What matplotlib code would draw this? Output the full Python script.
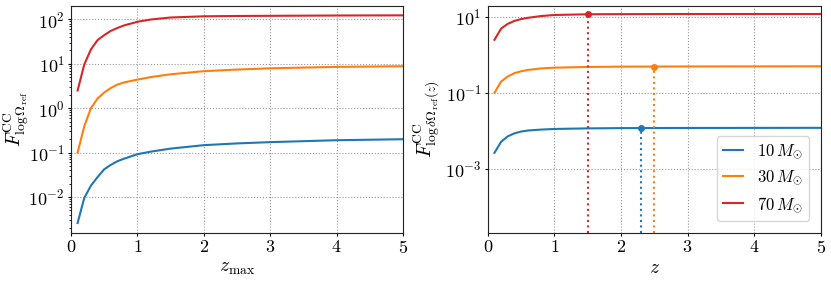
import numpy as np
import matplotlib
matplotlib.use("Agg")
import matplotlib.pyplot as plt
from matplotlib.ticker import LogLocator, NullFormatter, FixedLocator

plt.rcParams['font.family'] = 'serif'
plt.rcParams['font.serif'] = ['cmr10', 'DejaVu Serif']
plt.rcParams['mathtext.fontset'] = 'cm'
plt.rcParams['axes.formatter.use_mathtext'] = True
plt.rcParams['axes.unicode_minus'] = False

# ---- data ----
labels = [r'$10\,M_{\odot}$', r'$30\,M_{\odot}$', r'$70\,M_{\odot}$']
colors = ['#1f77b4', '#ff7f0e', '#d62728']

# left panel: cumulative F vs z_max
zmax = [0.1, 0.2, 0.3, 0.4, 0.5, 0.6, 0.7, 0.8, 1.0, 1.2, 1.5, 2.0, 2.5, 3.0, 4.0, 5.0]
F_cum_10 = [0.0026, 0.0095, 0.018, 0.028, 0.042, 0.053, 0.064, 0.073, 0.092, 0.105, 0.123, 0.147, 0.161, 0.172, 0.190, 0.200]
F_cum_30 = [0.10, 0.39, 1.0, 1.65, 2.25, 2.85, 3.4, 3.8, 4.4, 5.0, 5.8, 6.8, 7.4, 7.9, 8.5, 8.8]
F_cum_70 = [2.5, 9.6, 21, 34, 44, 55, 64, 73, 88, 99, 110, 117, 119, 120, 122, 123]

# right panel: F vs z
z = [0.1, 0.2, 0.3, 0.4, 0.5, 0.6, 0.8, 1.0, 1.5, 2.0, 3.0, 5.0]
F_z_10 = [0.0026, 0.0051, 0.0071, 0.0085, 0.0095, 0.0101, 0.0107, 0.0111, 0.0115, 0.0117, 0.0118, 0.0119]
F_z_30 = [0.10, 0.198, 0.27, 0.33, 0.37, 0.40, 0.44, 0.46, 0.48, 0.49, 0.495, 0.50]
F_z_70 = [2.5, 4.95, 6.6, 7.9, 8.8, 9.5, 10.6, 11.3, 11.8, 11.9, 12.0, 12.0]

marker_z = [2.3, 2.5, 1.5]
marker_F = [0.0117, 0.49, 11.8]

# ---- figure ----
fig = plt.figure(figsize=(8.31, 2.81), dpi=100)
ax1 = fig.add_axes([0.0854, 0.1708, 0.3995, 0.8078])
ax2 = fig.add_axes([0.587, 0.1708, 0.4007, 0.8078])

fs = 13
lfs = 14
for F, c, lab in zip([F_cum_10, F_cum_30, F_cum_70], colors, labels):
    ax1.plot(zmax, F, color=c, lw=1.5, label=lab)
ax1.set_yscale('log')
ax1.set_xlim(0, 5)
ax1.set_ylim(10**-2.81, 10**2.3)
ax1.yaxis.set_major_locator(FixedLocator([1e-2, 1e-1, 1e0, 1e1, 1e2]))
ax1.yaxis.set_minor_locator(LogLocator(base=10, subs=np.arange(2, 10), numticks=20))
ax1.yaxis.set_minor_formatter(NullFormatter())
ax1.set_xlabel(r'$z_{\rm max}$', fontsize=lfs, labelpad=2)
ax1.set_ylabel(r'$F^{\rm CC}_{\log\Omega_{\rm ref}}$', fontsize=lfs)
ax1.yaxis.set_label_coords(-0.12, 0.5)

for F, c, lab in zip([F_z_10, F_z_30, F_z_70], colors, labels):
    ax2.plot(z, F, color=c, lw=1.5, label=lab)
ax2.set_yscale('log')
ax2.set_xlim(0, 5)
ylo2 = 10**-4.70
ax2.set_ylim(ylo2, 10**1.29)
for mz, mF, c in zip(marker_z, marker_F, colors):
    ax2.plot([mz, mz], [ylo2, mF], ls=':', color=c, lw=1.5)
    ax2.plot([mz], [mF], 'o', color=c, ms=4)
ax2.yaxis.set_major_locator(FixedLocator([1e-3, 1e-1, 1e1]))
ax2.yaxis.set_minor_locator(FixedLocator([]))
ax2.set_xlabel(r'$z$', fontsize=lfs, labelpad=2)
ax2.set_ylabel(r'$F^{\rm CC}_{\log\delta\Omega_{\rm ref}(z)}$', fontsize=lfs)
ax2.yaxis.set_label_coords(-0.139, 0.5)
ax2.legend(loc='lower right', fontsize=12, handlelength=1.2, labelspacing=0.45,
           handletextpad=0.8, borderaxespad=0.7, framealpha=0.8)

for ax in (ax1, ax2):
    ax.set_xticks([0, 1, 2, 3, 4, 5])
    ax.grid(True, which='major', ls=':', color='#999999', lw=0.8)
    ax.tick_params(labelsize=fs, direction='out', which='major', length=2.5, pad=2)
    ax.tick_params(which='minor', direction='out', length=1.5)
    for s in ax.spines.values():
        s.set_color('#222222')

fig.savefig('out.png', dpi=100)
